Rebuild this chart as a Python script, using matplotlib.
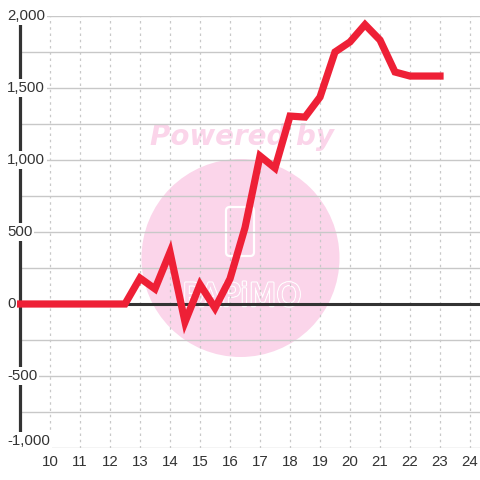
import matplotlib
matplotlib.use("Agg")
import matplotlib.pyplot as plt
import matplotlib.patheffects as pe
from matplotlib.patches import Circle, FancyBboxPatch

# ---- data ----
hours = [9, 9.5, 10, 10.5, 11, 11.5, 12, 12.5, 13, 13.5, 14, 14.5, 15, 15.5,
         16, 16.5, 17, 17.5, 18, 18.5, 19, 19.5, 20, 20.5, 21, 21.5, 22, 22.5, 23]
values = [0, 0, 0, 0, 0, 0, 0, 0, 180, 105, 360, -125, 135, -28,
          175, 530, 1028, 944, 1305, 1298, 1437, 1750, 1820, 1940, 1833, 1611, 1583, 1583, 1583]
x_ticks = list(range(10, 25))
y_label_vals = [2000, 1500, 1000, 500, 0, -500, -1000]
y_labels = ["2,000", "1,500", "1,000", "500", "0", "-500", "-1,000"]
y_grid = list(range(-1000, 2001, 250))

RED = "#EE2036"
PINK = "#FBD5EA"
GRID = "#C8C8C8"
DARK = "#333333"

plt.rcParams['font.family'] = ['Liberation Sans', 'DejaVu Sans']

fig = plt.figure(figsize=(4.8, 4.8), dpi=100)
W = 480.0
ax = fig.add_axes([20 / W, 32 / W, 460 / W, 432 / W])
ax.set_xlim(9, 24.333)
ax.set_ylim(-1000, 2000)
for s in ax.spines.values():
    s.set_visible(False)
ax.set_yticks([])
ax.set_xticks(x_ticks)
ax.set_xticklabels([str(t) for t in x_ticks], fontsize=10.8, color=DARK)
ax.tick_params(axis='x', length=0, pad=5)
ax.patch.set_alpha(0)

# watermark (figure coords, drawn inside the axes below everything else)
ftr = fig.transFigure
circ = Circle((240.5 / W, 1 - 258 / W), 99 / W, transform=ftr,
              facecolor=PINK, edgecolor='none', zorder=0.2, clip_on=False)
ax.add_artist(circ)
rect = FancyBboxPatch((226 / W, 1 - 256 / W), 28 / W, 49 / W,
                      boxstyle="round,pad=0,rounding_size=0.008",
                      transform=ftr, facecolor='none', clip_on=False,
                      edgecolor='white', linewidth=1.6, zorder=0.3)
ax.add_artist(rect)
ax.text(242 / W, 1 - 145 / W, "Powered by", transform=ftr, family='DejaVu Sans',
        fontsize=20, fontweight='bold', style='italic', color=PINK, ha='center',
        va='baseline', zorder=0.3, clip_on=False)
t = ax.text(242 / W, 1 - 306 / W, "PAPiMO", transform=ftr, family='DejaVu Sans',
            fontsize=23, color=PINK, ha='center', va='baseline', zorder=0.3,
            clip_on=False)
t.set_path_effects([pe.withStroke(linewidth=1.8, foreground='white'),
                    pe.Normal()])

# grid
ax.vlines(x_ticks, -1000, 2000, colors=GRID, linestyles=(0, (2, 3)), linewidth=0.9, zorder=1)
ax.hlines(y_grid, 9, 24.333, colors=GRID, linewidth=1.0, zorder=1)

# axes lines
ax.axhline(0, color=DARK, linewidth=2.2, zorder=2)
ax.plot([9, 9], [-1000, 2000], color=DARK, linewidth=2.3, clip_on=False,
        solid_capstyle='butt', zorder=2)

# data line
ax.plot(hours, values, color=RED, linewidth=5.2, solid_joinstyle='miter',
        solid_capstyle='projecting', zorder=3, clip_on=False)

# y labels
ytr = ax.get_yaxis_transform()
for v, lab in zip(y_label_vals, y_labels):
    dy = 5 if v == y_label_vals[-1] else 0
    ax.annotate(lab, xy=(-13 / 460, v), xycoords=ytr, xytext=(0, dy),
                textcoords='offset points', ha='left', va='center',
                fontsize=10.8, color=DARK, annotation_clip=False, zorder=5,
                bbox=dict(boxstyle='square,pad=0.12', facecolor='white', edgecolor='none'))

fig.savefig("out.png", dpi=100, facecolor='white')
